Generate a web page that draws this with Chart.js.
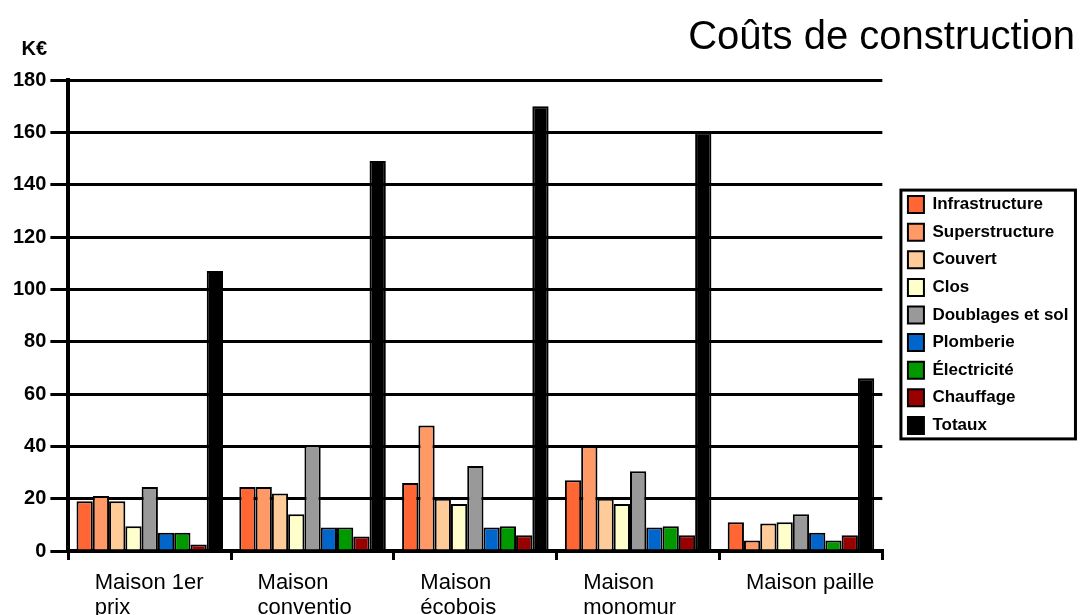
<!DOCTYPE html>
<html>
<head>
<meta charset="utf-8">
<script src="https://cdn.jsdelivr.net/npm/chart.js@4/dist/chart.umd.min.js"></script>
<style>
  body { margin: 0; background: #fff; }
</style>
</head>
<body>
<canvas id="couts" width="1083" height="615"></canvas>
<script>
var maisons = [['Maison 1er', 'prix'], ['Maison', 'conventio'], ['Maison', 'écobois'], ['Maison', 'monomur'], ['Maison paille']];

var infrastructure = [19, 24.5, 26, 27, 11];
var superstructure = [21, 24.5, 48, 40, 4];
var couvert = [19, 22, 20, 20, 10.5];
var clos = [9.5, 14, 18, 18, 11];
var doublages = [24.5, 40.5, 32.5, 30.5, 14];
var plomberie = [7, 9, 9, 9, 7];
var electricite = [7, 9, 9.5, 9.5, 4];
var chauffage = [2.5, 5.5, 6, 6, 6];
var totaux = [107, 149, 170, 160, 66];

var yTicks = [0, 20, 40, 60, 80, 100, 120, 140, 160, 180];

var police = '"Liberation Sans", Arial, sans-serif';

function serie(label, values, color) {
    return {
        label: label,
        data: values,
        backgroundColor: color,
        borderColor: '#000',
        borderWidth: 2,
    };
}

var data = {
    labels: maisons,
    datasets: [
        serie('Infrastructure', infrastructure, '#ff6633'),
        serie('Superstructure', superstructure, '#ff9966'),
        serie('Couvert', couvert, '#ffcc99'),
        serie('Clos', clos, '#ffffcc'),
        serie('Doublages et sol', doublages, '#999999'),
        serie('Plomberie', plomberie, '#0066cc'),
        serie('Électricité', electricite, '#009900'),
        serie('Chauffage', chauffage, '#990000'),
        serie('Totaux', totaux, '#000000'),
    ]
};

// unit label above the value axis
var uniteLabel = {
    id: 'uniteLabel',
    afterDraw: function (chart) {
        var ctx = chart.ctx;
        var area = chart.chartArea;
        ctx.save();
        ctx.font = 'bold 20px ' + police;
        ctx.fillStyle = '#000';
        ctx.textAlign = 'center';
        ctx.textBaseline = 'alphabetic';
        ctx.fillText('K€', area.left - 34, area.top - 25);
        ctx.restore();
    }
};

// frame around the legend items
var legendFrame = {
    id: 'legendFrame',
    afterDraw: function (chart) {
        var boxes = chart.legend.legendHitBoxes;
        if (!boxes || !boxes.length) return;
        var left = Infinity, top = Infinity, right = -Infinity, bottom = -Infinity;
        boxes.forEach(function (b) {
            left = Math.min(left, b.left);
            top = Math.min(top, b.top);
            right = Math.max(right, b.left + b.width);
            bottom = Math.max(bottom, b.top + b.height);
        });
        var ctx = chart.ctx;
        ctx.save();
        ctx.strokeStyle = '#000';
        ctx.lineWidth = 3;
        ctx.strokeRect(left - 7, top - 6, right - left + 14, bottom - top + 11);
        ctx.restore();
    }
};

var config = {
    type: 'bar',
    data: data,
    options: {
        responsive: false,
        animation: false,
        layout: { padding: { left: 9, right: 8, top: 0, bottom: -15 } },
        datasets: {
            bar: { categoryPercentage: 0.9, barPercentage: 1 }
        },
        plugins: {
            title: {
                display: true,
                text: 'Coûts de construction',
                align: 'end',
                color: '#000',
                font: { family: police, size: 40, weight: 'normal' },
                padding: { top: 14, bottom: 18 }
            },
            legend: {
                position: 'right',
                labels: {
                    color: '#000',
                    boxWidth: 16,
                    boxHeight: 17,
                    padding: 10.6,
                    font: { family: police, size: 17, weight: 'bold' }
                }
            },
            tooltip: { enabled: false }
        },
        scales: {
            x: {
                grid: {
                    drawOnChartArea: false,
                    color: '#000',
                    lineWidth: 3,
                    tickLength: 9
                },
                border: { color: '#000', width: 4 },
                ticks: {
                    autoSkip: false,
                    maxRotation: 0,
                    align: 'start',
                    labelOffset: -55,
                    padding: 10,
                    color: '#000',
                    font: { family: police, size: 22, lineHeight: '25px' }
                }
            },
            y: {
                min: yTicks[0],
                max: yTicks[yTicks.length - 1],
                afterBuildTicks: function (scale) {
                    scale.ticks = yTicks.map(function (v) { return { value: v }; });
                },
                grid: {
                    color: '#000',
                    lineWidth: 3,
                    tickLength: 18
                },
                border: { color: '#000', width: 4 },
                ticks: {
                    padding: 4,
                    color: '#000',
                    font: { family: police, size: 20, weight: 'bold' }
                }
            },
            ecart: {
                axis: 'y',
                type: 'linear',
                position: 'right',
                grid: { display: false },
                border: { display: false },
                ticks: { display: false },
                afterFit: function (scale) { scale.width = 15; }
            }
        }
    },
    plugins: [uniteLabel, legendFrame]
};

var coutsChart = new Chart(document.getElementById('couts'), config);
</script>
</body>
</html>
